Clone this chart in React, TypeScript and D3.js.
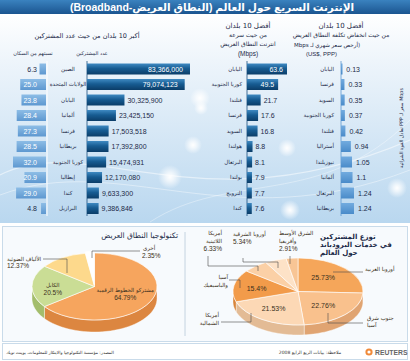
import React from 'react';
import * as d3 from 'd3';

const W = 410;
const H = 361;

const subCountries = ['الصين', 'الولايات المتحدة', 'اليابان', 'ألمانيا', 'فرنسا', 'بريطانيا', 'كوريا الجنوبية', 'إيطاليا', 'كندا', 'البرازيل'];
const subscribers = [83366000, 79074123, 30325900, 23425150, 17503518, 17392800, 15474931, 12170080, 9633300, 9386846];
const penetration = [6.3, 25.0, 23.8, 28.4, 27.3, 28.5, 32.0, 20.9, 29.0, 4.8];

const speedCountries = ['اليابان', 'كوريا الجنوبية', 'فنلندا', 'فرنسا', 'السويد', 'هولندا', 'البرتغال', 'بولندا', 'النرويج', 'كندا'];
const speeds = [63.6, 49.5, 21.7, 17.6, 16.8, 8.8, 8.1, 7.9, 7.7, 7.6];

const costCountries = ['اليابان', 'فرنسا', 'السويد', 'كوريا الجنوبية', 'فنلندا', 'أستراليا', 'نيوزيلندا', 'ألمانيا', 'البرتغال', 'بريطانيا'];
const costs = [0.13, 0.33, 0.35, 0.37, 0.42, 0.94, 1.05, 1.1, 1.24, 1.24];

const techLabels = ['مشتركو الخطوط الرقمية', 'الكابل', 'الألياف الضوئية', 'أخرى'];
const techShares = [64.79, 20.5, 12.37, 2.35];

const regionLabels = ['أوروبا الغربية', 'جنوب شرق آسيا', 'أمريكا الشمالية', 'آسيا والباسيفيك', 'أمريكا اللاتينية', 'أوروبا الشرقية', 'الشرق الأوسط وأفريقيا'];
const regionShares = [25.73, 22.76, 21.53, 15.4, 6.33, 5.34, 2.91];

const AR = "'DejaVu Sans', sans-serif";
const NUM = "'Liberation Sans', Arial, 'DejaVu Sans', sans-serif";
const NAVY = '#1c2a48';

type PieProps = {
  cx: number; cy: number; rx: number; ry: number; depth: number;
  values: number[]; colors: string[]; sides: string[]; explode?: number[];
};

function Pie3D({ cx, cy, rx, ry, depth, values, colors, sides, explode = [] }: PieProps) {
  const arcs = d3.pie<number>().sort(null)(values);
  const arcGen = d3.arc<d3.PieArcDatum<number>>().innerRadius(0).outerRadius(rx);
  const k = ry / rx;
  const off = (a: d3.PieArcDatum<number>, i: number) => {
    const e = explode[i] || 0;
    const m = (a.startAngle + a.endAngle) / 2;
    return [e * Math.sin(m), -e * Math.cos(m) * k];
  };
  const line = d3.line();
  return (
    <g>
      {arcs.map((a, i) => {
        const a0 = Math.max(a.startAngle, Math.PI / 2);
        const a1 = Math.min(a.endAngle, (3 * Math.PI) / 2);
        if (a1 <= a0) return null;
        const [dx, dy] = off(a, i);
        const pts: [number, number][] = [];
        const n = 40;
        for (let j = 0; j <= n; j++) {
          const t = a0 + ((a1 - a0) * j) / n;
          pts.push([cx + dx + rx * Math.sin(t), cy + dy - ry * Math.cos(t)]);
        }
        for (let j = n; j >= 0; j--) {
          const t = a0 + ((a1 - a0) * j) / n;
          pts.push([cx + dx + rx * Math.sin(t), cy + dy - ry * Math.cos(t) + depth]);
        }
        return <path key={'s' + i} d={line(pts) + 'Z'} fill={sides[i]} stroke="#fff" strokeWidth={0.4} />;
      })}
      {arcs.map((a, i) => {
        const [dx, dy] = off(a, i);
        return (
          <g key={'t' + i} transform={`translate(${cx + dx},${cy + dy}) scale(1,${k})`}>
            <path d={arcGen(a) || ''} fill={colors[i]} stroke="#fff" strokeWidth={0.6} vectorEffect="non-scaling-stroke" />
          </g>
        );
      })}
    </g>
  );
}

function centroid(values: number[], i: number, cx: number, cy: number, rx: number, ry: number, f: number) {
  const a = d3.pie<number>().sort(null)(values)[i];
  const m = (a.startAngle + a.endAngle) / 2;
  return [cx + f * rx * Math.sin(m), cy - f * ry * Math.cos(m)];
}

export default function App() {
  const rowY = d3.scalePoint<number>().domain(d3.range(10)).range([69, 208.5]);
  const bh = 11;
  const xSub = d3.scaleLinear().domain([0, d3.max(subscribers) as number]).range([87, 190]);
  const xPen = d3.scaleLinear().domain([0, 32]).range([46, 13]);
  const xSpd = d3.scaleLinear().domain([0, d3.max(speeds) as number]).range([247, 287]);
  const xCost = d3.scaleLinear().domain([0, d3.max(costs) as number]).range([341, 354]);
  const fmtSub = d3.format(',');
  const fmt1 = d3.format('.1f');

  const lp = { cx: 94.5, cy: 286.5, rx: 62.5, ry: 33.5 };
  const rp = { cx: 298, cy: 291.5, rx: 65, ry: 33.5 };

  const techColors = ['#f6a55e', '#cadd95', '#fdd98c', '#ffffff'];
  const techSides = ['#dc8640', '#a3bd6c', '#e2b965', '#dddddd'];
  const regColors = ['#f5a65a', '#f9c18d', '#fcd8b5', '#f29b4a', '#fbd0a6', '#fde2c7', '#f8c595'];
  const regSides = ['#d98a42', '#e0a472', '#e3bb95', '#d8843a', '#e0b286', '#e6c6a6', '#dea878'];

  const leader = { stroke: '#4a4a4a', strokeWidth: 0.6, fill: 'none' };

  return (
    <svg width={W} height={H} style={{ position: 'absolute', left: 0, top: 0 }}>
      <defs>
        <linearGradient id="bgUp" x1="0" y1="0" x2="0" y2="1">
          <stop offset="0" stopColor="#ffffff" />
          <stop offset="0.22" stopColor="#eef5fb" />
          <stop offset="1" stopColor="#b9d7ef" />
        </linearGradient>
        <linearGradient id="titleG" x1="0" y1="0" x2="0" y2="1">
          <stop offset="0" stopColor="#3a82bf" />
          <stop offset="1" stopColor="#1b5590" />
        </linearGradient>
        <linearGradient id="darkBar" x1="0" y1="0" x2="0" y2="1">
          <stop offset="0" stopColor="#3f8ac2" />
          <stop offset="0.45" stopColor="#175c92" />
          <stop offset="1" stopColor="#0b3d68" />
        </linearGradient>
        <linearGradient id="penBar" x1="0" y1="0" x2="0" y2="1">
          <stop offset="0" stopColor="#8dbde6" />
          <stop offset="1" stopColor="#5e98d0" />
        </linearGradient>
        <linearGradient id="costBar" x1="0" y1="0" x2="0" y2="1">
          <stop offset="0" stopColor="#72abdf" />
          <stop offset="1" stopColor="#4a8bc9" />
        </linearGradient>
        <radialGradient id="glow">
          <stop offset="0" stopColor="#ffffff" stopOpacity="1" />
          <stop offset="0.35" stopColor="#ffffff" stopOpacity="0.7" />
          <stop offset="1" stopColor="#ffffff" stopOpacity="0" />
        </radialGradient>
      </defs>

      {/* backgrounds */}
      <rect x={0} y={0} width={W} height={H} fill="#ffffff" />
      <rect x={0} y={14} width={W} height={209} fill="url(#bgUp)" />
      <path d="M0,175 C90,130 200,230 410,140" stroke="#ffffff" strokeOpacity={0.5} strokeWidth={1.2} fill="none" />
      <path d="M0,195 C120,150 230,240 410,170" stroke="#ffffff" strokeOpacity={0.4} strokeWidth={1} fill="none" />
      <path d="M150,222 C230,170 320,210 410,120" stroke="#ffffff" strokeOpacity={0.35} strokeWidth={1} fill="none" />
      {[[200, 98, 10], [193, 145, 9], [170, 177, 12], [287, 148, 9], [290, 210, 10], [397, 188, 10], [201, 108, 7]].map((g, i) => (
        <circle key={i} cx={g[0]} cy={g[1]} r={g[2]} fill="url(#glow)" />
      ))}
      <rect x={0} y={0} width={W} height={14} fill="url(#titleG)" />
      <text x={212} y={7} dy="0.36em" textAnchor="middle" direction="rtl" fill="#fff" fontFamily={NUM} fontSize={10.5} fontWeight="bold">
        الإنترنت السريع حول العالم (النطاق العريض-Broadband)
      </text>

      {/* section headings */}
      <text x={87} y={38} textAnchor="middle" direction="rtl" fill={NAVY} fontFamily={AR} fontSize={6.5}>أكبر 10 بلدان من حيث عدد المشتركين</text>
      <text x={33} y={55} textAnchor="middle" fill={NAVY} fontFamily={AR} fontSize={5}>نسبتهم من السكان</text>
      <text x={92} y={55} textAnchor="middle" fill={NAVY} fontFamily={AR} fontSize={5}>عدد المشتركين</text>

      <text x={248} y={28} textAnchor="middle" direction="rtl" fill={NAVY} fontFamily={AR} fontSize={7}>أفضل 10 بلدان</text>
      <text x={248} y={37} textAnchor="middle" fill={NAVY} fontFamily={AR} fontSize={6}>من حيث سرعة</text>
      <text x={248} y={46} textAnchor="middle" fill={NAVY} fontFamily={AR} fontSize={6}>انترنت النطاق العريض</text>
      <text x={248} y={56} textAnchor="middle" fill={NAVY} fontFamily={NUM} fontSize={6.5}>(Mbps)</text>

      <text x={341} y={28} textAnchor="middle" direction="rtl" fill={NAVY} fontFamily={AR} fontSize={7}>أفضل 10 بلدان</text>
      <text x={341} y={37} textAnchor="middle" fill={NAVY} fontFamily={AR} fontSize={6}>من حيث انخفاض تكلفة النطاق العريض</text>
      <text x={327} y={47} textAnchor="middle" direction="rtl" fill={NAVY} fontFamily={AR} fontSize={5.5}>(أرخص سعر شهري لـ Mbps</text>
      <text x={306} y={56} textAnchor="start" fill={NAVY} fontFamily={NUM} fontSize={6}>(US$, PPP)</text>

      <text transform="translate(401,128) rotate(-90)" textAnchor="middle" direction="rtl" fill={NAVY} fontFamily={AR} fontSize={4.8} dy="0.35em">
        Mbps سعر لـ PPP تعادل القوة الشرائية
      </text>

      {/* axis lines */}
      <line x1={47} x2={47} y1={61} y2={216} stroke="#ffffff" strokeWidth={1} />
      <line x1={87} x2={87} y1={61} y2={216} stroke="#1b4f7d" strokeWidth={0.8} />
      <line x1={247} x2={247} y1={61} y2={216} stroke="#1b4f7d" strokeWidth={0.8} />
      <line x1={341} x2={341} y1={61} y2={216} stroke="#5b98d0" strokeWidth={0.8} />

      {/* left: subscribers and penetration */}
      {subCountries.map((c, i) => {
        const y = rowY(i) as number;
        const inside = i < 2;
        const penInside = penetration[i] > 10;
        return (
          <g key={'sub' + i}>
            <rect x={xPen(penetration[i])} y={y - bh / 2} width={xPen(0) - xPen(penetration[i])} height={bh} fill="url(#penBar)" />
            <text x={37} y={y} dy="0.36em" textAnchor="end" fill={penInside ? '#ffffff' : NAVY} fontFamily={NUM} fontSize={7}>{fmt1(penetration[i])}</text>
            <text x={68} y={y} dy="0.36em" textAnchor="middle" fill={NAVY} fontFamily={AR} fontSize={5.5}>{c}</text>
            <rect x={xSub(0)} y={y - bh / 2} width={xSub(subscribers[i]) - xSub(0)} height={bh} fill="url(#darkBar)" />
            <text x={inside ? xSub(subscribers[i]) - 7 : xSub(subscribers[i]) + 3} y={y} dy="0.36em" textAnchor={inside ? 'end' : 'start'}
              fill={inside ? '#ffffff' : NAVY} fontFamily={NUM} fontSize={7}>{fmtSub(subscribers[i])}</text>
          </g>
        );
      })}

      {/* middle: speed */}
      {speedCountries.map((c, i) => {
        const y = rowY(i) as number;
        const inside = i < 2;
        return (
          <g key={'spd' + i}>
            <text x={242} y={y} dy="0.36em" textAnchor="end" fill={NAVY} fontFamily={AR} fontSize={5.5}>{c}</text>
            <rect x={xSpd(0)} y={y - bh / 2} width={xSpd(speeds[i]) - xSpd(0)} height={bh} fill="url(#darkBar)" />
            <text x={inside ? xSpd(speeds[i]) - 4 : xSpd(speeds[i]) + 3} y={y} dy="0.36em" textAnchor={inside ? 'end' : 'start'}
              fill={inside ? '#ffffff' : NAVY} fontFamily={NUM} fontSize={7}>{fmt1(speeds[i])}</text>
          </g>
        );
      })}

      {/* right: cost */}
      {costCountries.map((c, i) => {
        const y = rowY(i) as number;
        return (
          <g key={'cost' + i}>
            <text x={334} y={y} dy="0.36em" textAnchor="end" fill={NAVY} fontFamily={AR} fontSize={5.5}>{c}</text>
            <rect x={xCost(0)} y={y - bh / 2} width={Math.max(1.5, xCost(costs[i]) - xCost(0))} height={bh} fill="url(#costBar)" />
            <text x={xCost(costs[i]) + 4} y={y} dy="0.36em" textAnchor="start" fill={NAVY} fontFamily={NUM} fontSize={7}>{String(costs[i])}</text>
          </g>
        );
      })}

      {/* lower panel */}
      <rect x={2.5} y={226.5} width={405} height={115} fill="#f7fafd" stroke="#c9dbea" strokeWidth={1} />
      <line x1={185} x2={185} y1={232} y2={336} stroke="#b8c9d8" strokeWidth={0.8} />

      <text x={178} y={238} textAnchor="end" fill={NAVY} fontFamily={AR} fontSize={7.5}>تكنولوجيا النطاق العريض</text>
      <Pie3D cx={lp.cx} cy={lp.cy} rx={lp.rx} ry={lp.ry} depth={12} values={techShares} colors={techColors} sides={techSides} explode={[0, 0, 0, 3]} />
      {(() => {
        const [x0, y0] = centroid(techShares, 0, lp.cx, lp.cy, lp.rx, lp.ry, 0.55);
        const [x1, y1] = centroid(techShares, 1, lp.cx, lp.cy, lp.rx, lp.ry, 0.62);
        return (
          <g fontFamily={AR} fill="#3a3020">
            <text x={x0} y={y0 - 3} textAnchor="middle" fontSize={5.5}>{techLabels[0]}</text>
            <text x={x0} y={y0 + 5} textAnchor="middle" fontSize={6.5} fontFamily={NUM}>{techShares[0]}%</text>
            <text x={x1 - 3} y={y1 + 1} textAnchor="middle" fontSize={5.5}>{techLabels[1]}</text>
            <text x={x1 - 3} y={y1 + 9} textAnchor="middle" fontSize={6.5} fontFamily={NUM}>{techShares[1]}%</text>
            <text x={7} y={261} textAnchor="start" fontSize={5.5}>{techLabels[2]}</text>
            <text x={7} y={268} textAnchor="start" fontSize={6.5} fontFamily={NUM}>{techShares[2]}%</text>
            <text x={143} y={250} textAnchor="start" fontSize={5.5}>{techLabels[3]}</text>
            <text x={142} y={258} textAnchor="start" fontSize={6.5} fontFamily={NUM}>{techShares[3]}%</text>
          </g>
        );
      })()}
      <polyline points="43,259 67,259 67,273" {...leader} />
      <polyline points="92,258 92,251 140,251" {...leader} />

      <text x={320} y={239} textAnchor="start" fill={NAVY} fontFamily={AR} fontSize={7} fontWeight="bold">توزع المشتركين</text>
      <text x={320} y={247} textAnchor="start" fill={NAVY} fontFamily={AR} fontSize={7} fontWeight="bold">في خدمات البرودباند</text>
      <text x={320} y={255} textAnchor="start" fill={NAVY} fontFamily={AR} fontSize={7} fontWeight="bold">حول العالم</text>

      <Pie3D cx={rp.cx} cy={rp.cy} rx={rp.rx} ry={rp.ry} depth={10} values={regionShares} colors={regColors} sides={regSides} />
      {[0, 1, 2, 3].map((i) => {
        const [x, y] = centroid(regionShares, i, rp.cx, rp.cy, rp.rx, rp.ry, 0.6);
        return (
          <text key={'rl' + i} x={x - 3} y={y} dy="0.36em" textAnchor="middle" fill="#3a3020" fontFamily={NUM} fontSize={7}>
            {regionShares[i]}%
          </text>
        );
      })}
      <g fontFamily={AR} fill="#3a3020" fontSize={5.5}>
        <text x={365} y={271} textAnchor="start">{regionLabels[0]}</text>
        <text x={367} y={320} textAnchor="start">جنوب شرق</text>
        <text x={367} y={327} textAnchor="start">آسيا</text>
        <text x={219} y={317} textAnchor="end">أمريكا</text>
        <text x={219} y={325} textAnchor="end">الشمالية</text>
        <text x={228} y={279} textAnchor="end">آسيا</text>
        <text x={228} y={287} textAnchor="end">والباسيفيك</text>
        <text x={222} y={235} textAnchor="end">أمريكا</text>
        <text x={222} y={243} textAnchor="end">اللاتينية</text>
        <text x={222} y={251} textAnchor="end" fontFamily={NUM} fontSize={6.5}>{regionShares[4]}%</text>
        <text x={233} y={236} textAnchor="start">أوروبا الشرقية</text>
        <text x={233} y={244} textAnchor="start" fontFamily={NUM} fontSize={6.5}>{regionShares[5]}%</text>
        <text x={279} y={235} textAnchor="start">الشرق الأوسط</text>
        <text x={279} y={243} textAnchor="start">وأفريقيا</text>
        <text x={279} y={251} textAnchor="start" fontFamily={NUM} fontSize={6.5}>{regionShares[6]}%</text>
      </g>
      <polyline points="333,272 363,272" {...leader} />
      <polyline points="328,313 328,323 363,323" {...leader} />
      <polyline points="251,313 251,322 221,322" {...leader} />
      <polyline points="229,280 240,280 240,288" {...leader} />
      <polyline points="208,256 208,266 258,266 258,271" {...leader} />
      <polyline points="243,258 243,262 278,262 278,268" {...leader} />
      <polyline points="290,256 290,264" {...leader} />

      {/* footer */}
      <rect x={2.5} y={343.5} width={405} height={16} fill="#ffffff" stroke="#c9dbea" strokeWidth={1} />
      <text x={60} y={354} textAnchor="middle" direction="rtl" fill="#333" fontFamily={AR} fontSize={4.3}>المصدر: مؤسسة التكنولوجيا والابتكار للمعلومات، بوينت توبك</text>
      <text x={310} y={354} textAnchor="middle" direction="rtl" fill="#333" fontFamily={AR} fontSize={4.5}>ملاحظة: بيانات الربع الرابع 2008</text>
      <circle cx={369} cy={352} r={3.6} fill="#f08a3a" />
      <circle cx={369} cy={352} r={1.6} fill="#ffffff" />
      <text x={375} y={355} textAnchor="start" fill="#666" fontFamily={NUM} fontSize={6.8} fontWeight="bold">REUTERS</text>
    </svg>
  );
}
